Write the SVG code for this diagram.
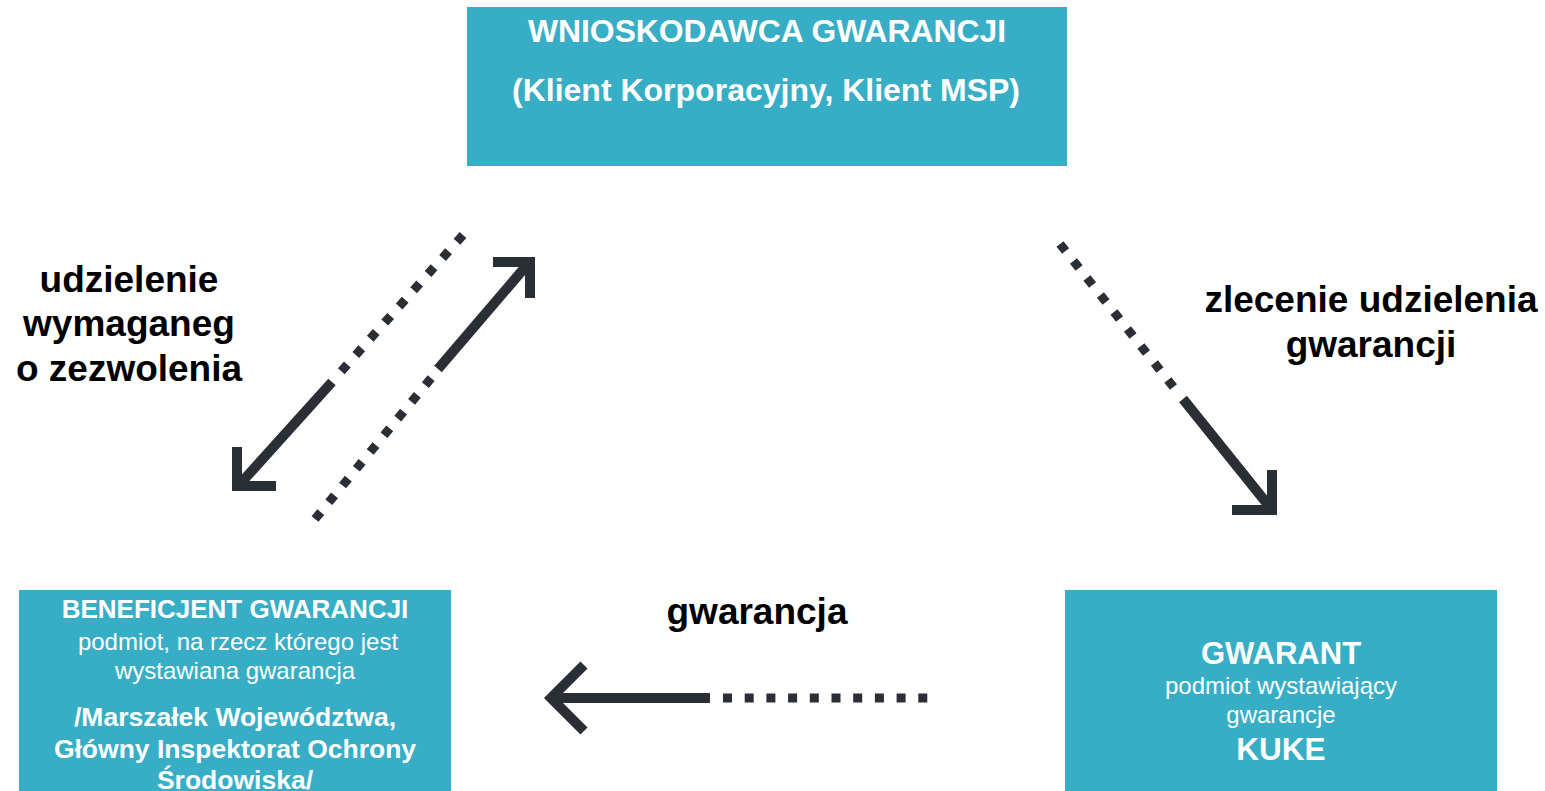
<svg xmlns="http://www.w3.org/2000/svg" width="1545" height="791" viewBox="0 0 1545 791">
  <style>
    .box { fill: #37aec5; }
    .t { font-family: "Liberation Sans", Arial, sans-serif; fill: #ffffff; text-anchor: middle; }
    .b { font-weight: bold; }
    .lbl { font-family: "Liberation Sans", Arial, sans-serif; font-weight: bold; font-size: 37px; fill: #000000; text-anchor: middle; }
    .solid { stroke: #2a2e35; stroke-width: 10; fill: none; stroke-linecap: butt; stroke-linejoin: miter; }
    .dot { stroke: #2a2e35; stroke-width: 9; fill: none; stroke-dasharray: 9 12.7; stroke-linecap: butt; }
  </style>
  <rect width="1545" height="791" fill="#ffffff"/>

  <g id="wnioskodawca">
    <rect class="box" x="467" y="7" width="600" height="159"/>
    <text class="t b" x="767" y="42" font-size="31" textLength="478" lengthAdjust="spacingAndGlyphs">WNIOSKODAWCA GWARANCJI</text>
    <text class="t b" x="766" y="101" font-size="31" textLength="508" lengthAdjust="spacingAndGlyphs">(Klient Korporacyjny, Klient MSP)</text>
  </g>

  <g id="beneficjent">
    <rect class="box" x="19" y="590" width="432" height="201"/>
    <text class="t b" x="235" y="618" font-size="26">BENEFICJENT GWARANCJI</text>
    <text class="t" x="238" y="650" font-size="24">podmiot, na rzecz którego jest</text>
    <text class="t" x="235" y="679" font-size="24">wystawiana gwarancja</text>
    <text class="t b" x="235" y="726" font-size="26.5">/Marszałek Województwa,</text>
    <text class="t b" x="235" y="758" font-size="26.5">Główny Inspektorat Ochrony</text>
    <text class="t b" x="235" y="789" font-size="26.5">Środowiska/</text>
  </g>

  <g id="gwarant">
    <rect class="box" x="1065" y="590" width="432" height="201"/>
    <text class="t b" x="1281" y="664" font-size="31">GWARANT</text>
    <text class="t" x="1281" y="694" font-size="24">podmiot wystawiający</text>
    <text class="t" x="1281" y="723" font-size="24">gwarancje</text>
    <text class="t b" x="1281" y="760" font-size="31.5">KUKE</text>
  </g>

  <g id="labels">
    <text class="lbl" x="129" y="292">udzielenie</text>
    <text class="lbl" x="129" y="336">wymaganeg</text>
    <text class="lbl" x="129" y="381">o zezwolenia</text>
    <text class="lbl" x="1371" y="312">zlecenie udzielenia</text>
    <text class="lbl" x="1371" y="357">gwarancji</text>
    <text class="lbl" x="757" y="624">gwarancja</text>
  </g>

  <g id="connectors">
    <!-- arrow 1: down-left -->
    <line class="dot" x1="463" y1="235" x2="337" y2="376"/>
    <line class="solid" x1="332" y1="382" x2="240" y2="484"/>
    <polyline class="solid" points="237,447 237,486 276,486"/>
    <!-- arrow 2: up-right -->
    <line class="dot" x1="315" y1="519" x2="432" y2="377"/>
    <line class="solid" x1="438" y1="369" x2="527" y2="265"/>
    <polyline class="solid" points="493,262 530,262 530,298"/>
    <!-- arrow 3: down-right -->
    <line class="dot" x1="1060" y1="244" x2="1175" y2="389"/>
    <line class="solid" x1="1183" y1="399" x2="1269" y2="506"/>
    <polyline class="solid" points="1232,510 1272,510 1272,470"/>
    <!-- arrow 4: left -->
    <line class="dot" x1="723" y1="698" x2="932" y2="698"/>
    <line class="solid" x1="710" y1="698" x2="555" y2="698"/>
    <polyline class="solid" points="584,665 551,698 584,731"/>
  </g>
</svg>
